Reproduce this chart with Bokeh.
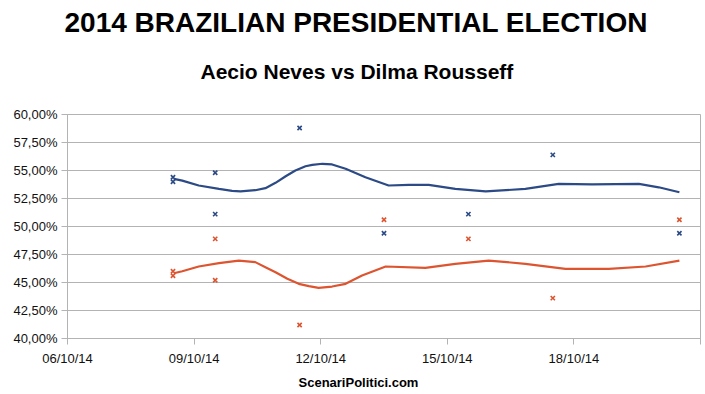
from bokeh.plotting import figure
from bokeh.models import Title, FixedTicker, Range1d
from bokeh.embed import file_html
from bokeh.resources import INLINE

# --- data (day of October 2014, vote share %) ---
poll_day = [8.5, 8.5, 9.5, 9.5, 11.5, 13.5, 15.5, 17.5, 20.5]
aecio = [54.4, 54.0, 54.8, 51.1, 58.8, 49.4, 51.1, 56.4, 49.4]
dilma = [45.6, 46.0, 45.2, 48.9, 41.2, 50.6, 48.9, 43.6, 50.6]

trend_day_aecio = [8.52, 8.72, 9.11, 9.59, 9.90, 10.10, 10.45, 10.69, 10.93, 11.17,
                   11.40, 11.64, 11.80, 12.04, 12.27, 12.59, 13.06, 13.61, 14.09,
                   14.56, 15.19, 15.91, 16.85, 17.64, 18.43, 19.54, 20.01, 20.5]
trend_aecio = [54.25, 54.1, 53.66, 53.36, 53.18, 53.13, 53.24, 53.42, 53.9, 54.49,
               55.0, 55.38, 55.5, 55.6, 55.54, 55.15, 54.4, 53.66, 53.72,
               53.72, 53.36, 53.13, 53.36, 53.8, 53.77, 53.8, 53.5, 53.06]

trend_day_dilma = [8.52, 8.72, 9.11, 9.59, 10.06, 10.45, 10.69, 10.93, 11.21, 11.48,
                   11.72, 11.95, 12.27, 12.59, 12.98, 13.54, 14.48, 15.19, 15.98,
                   16.85, 17.80, 18.83, 19.70, 20.50]
trend_dilma = [45.83, 46.0, 46.43, 46.73, 46.96, 46.82, 46.37, 45.92, 45.33, 44.88,
               44.67, 44.52, 44.64, 44.88, 45.63, 46.43, 46.31, 46.67, 46.96,
               46.67, 46.22, 46.22, 46.43, 46.96]

x_ticks = [6, 9, 12, 15, 18, 21]
x_tick_labels = ["06/10/14", "09/10/14", "12/10/14", "15/10/14", "18/10/14", ""]
y_ticks = [40, 42.5, 45, 47.5, 50, 52.5, 55, 57.5, 60]
y_tick_labels = ["40,00%", "42,50%", "45,00%", "47,50%", "50,00%",
                 "52,50%", "55,00%", "57,50%", "60,00%"]

title_text = "2014 BRAZILIAN PRESIDENTIAL ELECTION"
subtitle_text = "Aecio Neves vs Dilma Rousseff"
footer_text = "ScenariPolitici.com"

BLUE = "#2c4a85"
RED = "#dd5530"
GRID = "#b3b3b3"
FONT = "Liberation Sans"

W, H = 705, 394
p = figure(width=W, height=H, output_backend="svg", toolbar_location=None,
           x_range=Range1d(6, 21), y_range=Range1d(40, 60),
           min_border_left=67, min_border_right=5, min_border_top=114,
           min_border_bottom=56)
p.background_fill_color = "white"
p.border_fill_color = "white"
p.outline_line_color = GRID
p.outline_line_width = 1

# axes
p.xaxis.ticker = FixedTicker(ticks=x_ticks)
p.xaxis.major_label_overrides = {t: l for t, l in zip(x_ticks, x_tick_labels)}
p.yaxis.ticker = FixedTicker(ticks=y_ticks)
p.yaxis.major_label_overrides = {t: l for t, l in zip(y_ticks, y_tick_labels)}
for ax in (p.xaxis, p.yaxis):
    ax.axis_line_color = GRID
    ax.major_tick_line_color = GRID
    ax.minor_tick_line_color = None
    ax.major_tick_in = 0
    ax.major_tick_out = 6
    ax.major_label_text_font = FONT
    ax.major_label_text_font_size = "13px"
    ax.major_label_text_color = "#111111"
p.yaxis.major_label_standoff = 4
p.xaxis.major_label_standoff = 6

p.xgrid.grid_line_color = None
p.ygrid.grid_line_color = GRID
p.ygrid.grid_line_width = 1

# trend lines
p.line(trend_day_aecio, trend_aecio, line_color=BLUE, line_width=2.2)
p.line(trend_day_dilma, trend_dilma, line_color=RED, line_width=2.2)

# poll points
p.scatter(poll_day, aecio, marker="x", size=6, line_color=BLUE, line_width=1.6)
p.scatter(poll_day, dilma, marker="x", size=6, line_color=RED, line_width=1.6)

# titles
p.add_layout(Title(text=subtitle_text, align="left", offset=133, standoff=63,
                   text_font=FONT, text_font_style="bold", text_font_size="21px",
                   text_color="black"), "above")
p.add_layout(Title(text=title_text, align="left", offset=-3, standoff=-22,
                   text_font=FONT, text_font_style="bold", text_font_size="28px",
                   text_color="black"), "above")
p.add_layout(Title(text=footer_text, align="left", offset=231, standoff=8,
                   text_font=FONT, text_font_style="bold", text_font_size="13px",
                   text_color="black"), "below")

open("out.html", "w").write(file_html(p, INLINE))
